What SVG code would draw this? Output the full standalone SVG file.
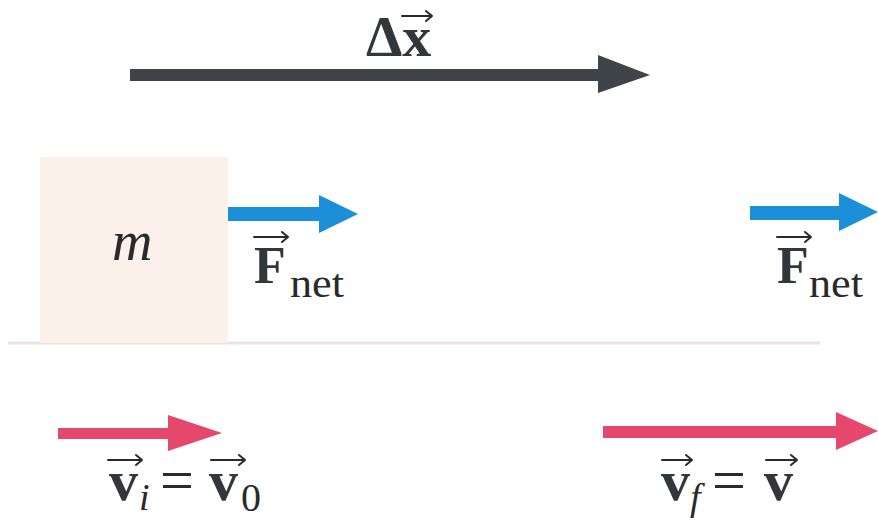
<svg xmlns="http://www.w3.org/2000/svg" width="878" height="521" viewBox="0 0 878 521">
<style>
text{font-family:'Liberation Serif','DejaVu Serif',serif}
.b{font-weight:bold;fill:#33373b}
.r{fill:#2a2a2a}
.it{font-style:italic;fill:#2a2a2a}
.va{fill:none;stroke:#2a2a2a;stroke-width:2;stroke-linecap:round;stroke-linejoin:round}
.gray{fill:#3f4448}
.blue{fill:#1b8fd8}
.pink{fill:#e6476c}
</style>
<rect width="878" height="521" fill="#ffffff"/>
<g id="ground">
<line x1="8" y1="343" x2="820" y2="343" stroke="#ebe3df" stroke-width="3"/>
</g>
<g id="block">
<rect x="40" y="157" width="188" height="186" fill="#fcf0ea"/>
<text class="it" x="112" y="260" font-size="56">m</text>
</g>
<g id="connectors">
<g id="dx-arrow">
<path class="gray" d="M130,69 H598 V55 L650,75 L598,93 V81 H130 Z"/>
</g>
<g id="fnet1-arrow">
<path class="blue" d="M228,207 H319 V195 L358,214 L319,233 V221 H228 Z"/>
</g>
<g id="fnet2-arrow">
<path class="blue" d="M750,206 H839 V193 L878,212 L839,231 V220 H750 Z"/>
</g>
<g id="vi-arrow">
<path class="pink" d="M58,428 H168 V415 L222,433 L168,451 V439 H58 Z"/>
</g>
<g id="vf-arrow">
<path class="pink" d="M603,426 H836 V412 L878,431 L836,450 V438 H603 Z"/>
</g>
</g>
<g id="label-dx">
<text class="b" x="366" y="56" font-size="58">Δx</text>
<path class="va" d="M402,16 H432 M426,11 L432,16 L426,21"/>
</g>
<g id="label-fnet1">
<text class="b" x="254" y="283" font-size="52">F</text>
<text class="r" x="290" y="297" font-size="40" textLength="54" lengthAdjust="spacingAndGlyphs">net</text>
<path class="va" d="M254,237 H288 M282,232 L288,237 L282,242"/>
</g>
<g id="label-fnet2">
<text class="b" x="777" y="283" font-size="52">F</text>
<text class="r" x="809" y="297" font-size="40" textLength="54" lengthAdjust="spacingAndGlyphs">net</text>
<path class="va" d="M777,237 H811 M805,232 L811,237 L805,242"/>
</g>
<g id="label-vi">
<text class="b" x="109" y="500" font-size="58">v</text>
<text class="it" x="139" y="510" font-size="38">i</text>
<text class="r" x="160" y="500" font-size="60">=</text>
<text class="b" x="209" y="500" font-size="58">v</text>
<text class="r" x="241" y="511" font-size="40">0</text>
<path class="va" d="M108,460 H142 M136,455 L142,460 L136,465"/>
<path class="va" d="M211,460 H245 M239,455 L245,460 L239,465"/>
</g>
<g id="label-vf">
<text class="b" x="661" y="500" font-size="58">v</text>
<text class="it" x="690" y="510" font-size="38">f</text>
<text class="r" x="712" y="500" font-size="60">=</text>
<text class="b" x="764" y="500" font-size="58">v</text>
<path class="va" d="M662,460 H692 M686,455 L692,460 L686,465"/>
<path class="va" d="M766,460 H797 M791,455 L797,460 L791,465"/>
</g>
</svg>
